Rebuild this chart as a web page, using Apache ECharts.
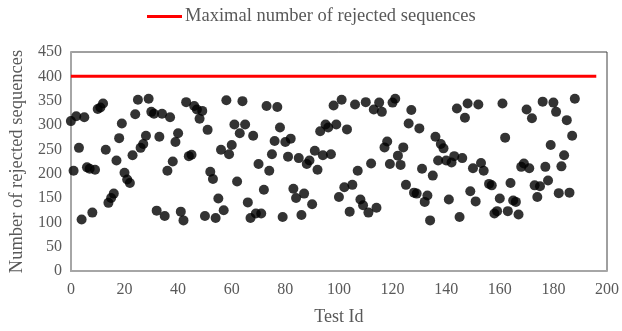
<!DOCTYPE html>
<html>
<head>
<meta charset="utf-8">
<script src="https://cdn.jsdelivr.net/npm/echarts@6/dist/echarts.min.js"></script>
<style>html,body{margin:0;padding:0;background:#fff}#c{width:622px;height:331px}</style>
</head>
<body>
<div id="c"></div>
<script>
const testIds = [
  0,1,2,3,4,5,6,7,8,9,10,11,12,13,14,15,16,17,18,19,20,21,22,23,24,25,26,27,28,29,
  30,31,32,33,34,35,36,37,38,39,40,41,42,43,44,45,46,47,48,49,50,51,52,53,54,55,56,57,58,59,
  60,61,62,63,64,65,66,67,68,69,70,71,72,73,74,75,76,77,78,79,80,81,82,83,84,85,86,87,88,89,
  90,91,92,93,94,95,96,97,98,99,100,101,102,103,104,105,106,107,108,109,110,111,112,113,114,115,116,117,118,119,
  120,121,122,123,124,125,126,127,128,129,130,131,132,133,134,135,136,137,138,139,140,141,142,143,144,145,146,147,148,149,
  150,151,152,153,154,156,157,158,159,160,161,162,163,164,165,166,167,168,169,170,171,172,173,174,175,176,177,178,179,
  180,181,182,183,184,185,186,187,188
];
const rejected = [
  308,206,318,253,106,316,213,210,120,208,333,336,344,249,140,150,159,227,273,303,202,188,181,238,322,352,253,261,278,354,
  327,323,124,276,323,113,206,316,225,265,283,122,104,347,236,239,339,332,313,329,113,290,204,189,109,149,249,125,351,240,
  259,301,184,283,349,301,141,109,278,118,220,118,167,339,206,240,267,337,295,111,265,235,272,169,150,232,115,159,220,227,
  137,247,208,287,238,301,295,240,340,301,152,352,172,291,122,177,342,206,147,135,347,120,221,332,130,346,327,254,266,220,
  346,354,237,218,254,177,303,331,161,159,293,210,142,155,104,196,276,227,261,252,227,147,223,236,334,111,232,315,344,164,
  211,143,342,222,206,179,176,118,123,149,344,274,123,181,145,142,116,214,221,332,211,314,176,152,174,348,214,186,259,
  346,327,160,215,238,310,161,278,354
];
const limitLine = [[0, 400], [196, 400]];
const xTicks = {min: 0, max: 200, interval: 20};
const yTicks = {min: 0, max: 450, interval: 50};

const pts = testIds.map((x, i) => [x, rejected[i]]);
const font = '"Liberation Serif","Times New Roman",serif';
const chart = echarts.init(document.getElementById('c'));
chart.setOption({
  animation: false,
  textStyle: {fontFamily: font},
  legend: {
    data: [{name: 'Maximal number of rejected sequences', icon: 'rect'}],
    top: 7, left: 147, padding: 0,
    itemWidth: 35, itemHeight: 3, itemGap: 0,
    textStyle: {fontFamily: font, fontSize: 18.5, color: '#595959', padding: [0, 0, 0, -2]}
  },
  grid: {left: 65, right: 11, top: 52, bottom: 57, show: true, borderColor: '#404040', borderWidth: 1, backgroundColor: 'transparent'},
  xAxis: {
    type: 'value', min: xTicks.min, max: xTicks.max, interval: xTicks.interval,
    name: 'Test Id', nameLocation: 'middle', nameGap: 37,
    nameTextStyle: {fontFamily: font, fontSize: 18, color: '#595959'},
    axisLine: {show: true, onZero: false, lineStyle: {color: '#a6a6a6', width: 2}},
    axisTick: {show: false},
    splitLine: {show: false},
    axisLabel: {fontFamily: font, fontSize: 16, color: '#595959', margin: 11}
  },
  yAxis: {
    type: 'value', min: yTicks.min, max: yTicks.max, interval: yTicks.interval,
    name: 'Number of rejected sequences', nameLocation: 'middle', nameGap: 42,
    nameTextStyle: {fontFamily: font, fontSize: 18.5, color: '#595959'},
    axisLine: {show: true, lineStyle: {color: '#a6a6a6', width: 2}},
    axisTick: {show: false},
    splitLine: {show: false},
    axisLabel: {fontFamily: font, fontSize: 16, color: '#595959', margin: 9}
  },
  series: [
    {
      name: 'Maximal number of rejected sequences', type: 'line', data: limitLine,
      symbol: 'none', lineStyle: {color: '#ff0000', width: 3}, itemStyle: {color: '#ff0000'}, z: 3
    },
    {
      name: 'Rejected', type: 'scatter', data: pts, symbolSize: 10,
      itemStyle: {color: '#000000'}, z: 4
    }
  ]
});
</script>
</body>
</html>
